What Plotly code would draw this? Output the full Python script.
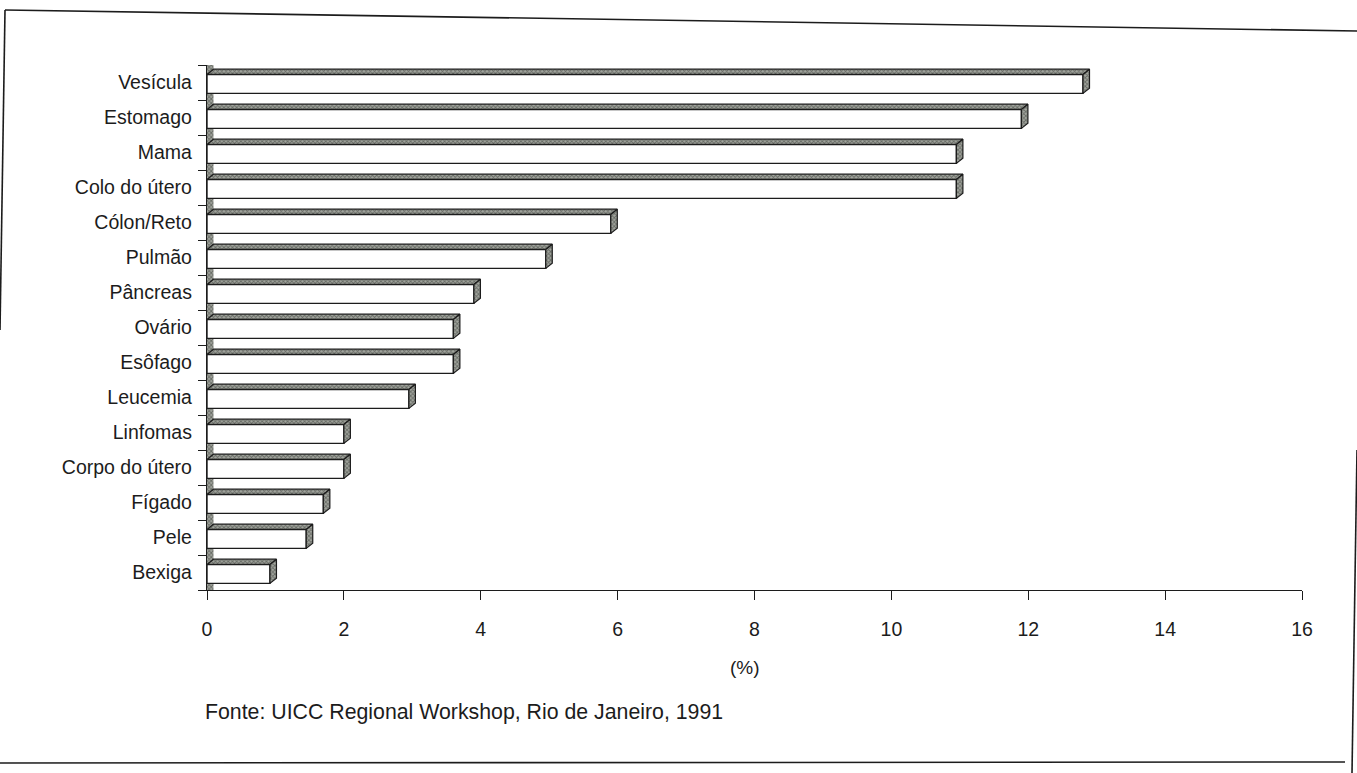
import plotly.graph_objects as go

# ---- data ----
categories = ["Vesícula", "Estomago", "Mama", "Colo do útero", "Cólon/Reto",
              "Pulmão", "Pâncreas", "Ovário", "Esôfago", "Leucemia",
              "Linfomas", "Corpo do útero", "Fígado", "Pele", "Bexiga"]
values = [12.8, 11.9, 10.95, 10.95, 5.9, 4.95, 3.9, 3.6, 3.6, 2.95,
          2.0, 2.0, 1.7, 1.45, 0.92]
x_ticks = [0, 2, 4, 6, 8, 10, 12, 14, 16]
x_title = "(%)"
source = "Fonte: UICC Regional Workshop, Rio de Janeiro, 1991"

# ---- style ----
FONT = "Liberation Sans, Arial, Helvetica, sans-serif"
INK = "#1c1c1c"
DX = 0.095     # 3D depth along x (data units)
DY = 0.15      # 3D depth along y (category units)
FRONT_OFF = -0.23
FRONT_H = 0.54
HATCH = dict(shape="x", size=3, solidity=0.5, fgcolor="#2b2e29", bgcolor="#a3a69f")

n = len(categories)
pos = list(range(n))

W, H = 1357, 773
L, R, T, B = 207, 55, 65, 183
PW, PH = W - L - R, H - T - B


def px(xp):
    return (xp - L) / PW


def py(yp):
    return (H - B - yp) / PH


fig = go.Figure()

# left wall of the 3D chart (behind the bars)
fig.add_trace(go.Bar(
    x=[DX], y=[(n - 1) / 2], base=[0], orientation="h", width=n,
    marker=dict(color="#a3a69f", pattern=HATCH, line=dict(width=0)),
    hoverinfo="skip", showlegend=False))

# front faces of the bars
fig.add_trace(go.Bar(
    x=values, y=pos, orientation="h", width=FRONT_H, offset=FRONT_OFF,
    marker=dict(color="white", line=dict(color=INK, width=1.4)),
    showlegend=False))

# top faces and side faces (3D effect) computed from the values
top_x, top_y, side_x, side_y = [], [], [], []
for i, v in enumerate(values):
    ft = i + FRONT_OFF
    fb = ft + FRONT_H
    top_x += [0, DX, v + DX, v, 0, None]
    top_y += [ft, ft - DY, ft - DY, ft, ft, None]
    side_x += [v, v + DX, v + DX, v, v, None]
    side_y += [ft, ft - DY, fb - DY, fb, ft, None]

for xs, ys in ((top_x, top_y), (side_x, side_y)):
    fig.add_trace(go.Scatter(
        x=xs, y=ys, mode="lines", fill="toself",
        fillcolor="#a3a69f", fillpattern=HATCH,
        line=dict(color=INK, width=1.2),
        hoverinfo="skip", showlegend=False))


def frame_line(x0, y0, x1, y1):
    return dict(type="line", xref="paper", yref="paper",
                x0=px(x0), y0=py(y0), x1=px(x1), y1=py(y1),
                line=dict(color=INK, width=1.6), layer="below")


fig.update_layout(
    width=W, height=H,
    margin=dict(l=L, r=R, t=T, b=B),
    paper_bgcolor="white", plot_bgcolor="white",
    barmode="overlay",
    font=dict(family=FONT, size=19, color=INK),
    xaxis=dict(range=[0, 16], tickvals=x_ticks, ticktext=[str(t) for t in x_ticks],
               ticks="outside", ticklen=9, tickwidth=1.3, tickcolor=INK,
               showline=True, linecolor=INK, linewidth=1.4,
               showgrid=False, zeroline=False, ticklabelstandoff=12,
               tickfont=dict(size=19.5)),
    yaxis=dict(range=[n - 0.5, -0.5], tickvals=pos, ticktext=categories,
               ticks="", showline=True, linecolor=INK, linewidth=1.4,
               showgrid=False, zeroline=False, ticklabelstandoff=10,
               tickfont=dict(size=19.5),
               minor=dict(tickvals=[i - 0.5 for i in range(n + 1)], ticks="outside",
                          ticklen=8, tickwidth=1.3, tickcolor=INK, showgrid=False)),
    annotations=[
        dict(text=x_title, xref="paper", yref="paper", x=px(745), y=py(667),
             xanchor="center", yanchor="middle", showarrow=False,
             font=dict(size=19, family=FONT, color=INK)),
        dict(text=source, xref="paper", yref="paper", x=px(203), y=py(712),
             xanchor="left", yanchor="middle", showarrow=False,
             font=dict(size=21.3, family=FONT, color=INK)),
    ],
    shapes=[
        frame_line(5, 10, 1357, 31),      # top border
        frame_line(5, 10, 0, 330),        # left border
        frame_line(0, 763, 1345, 762),    # bottom border
        frame_line(1352, 773, 1357, 450), # right border
    ],
)

fig.write_html("out.html",
               config={"displayModeBar": False},
               post_script="document.body.style.margin='0';document.body.style.padding='0';")
